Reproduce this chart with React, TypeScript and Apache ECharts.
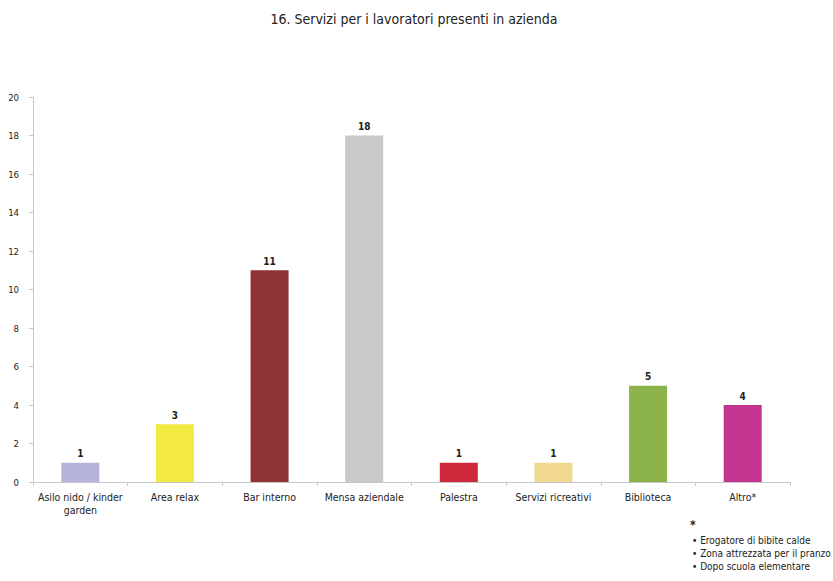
import React, { useEffect, useRef } from "react";
import * as echarts from "echarts";

const titleText = "16. Servizi per i lavoratori presenti in azienda";
const categories = [
  "Asilo nido / kinder\ngarden",
  "Area relax",
  "Bar interno",
  "Mensa aziendale",
  "Palestra",
  "Servizi ricreativi",
  "Biblioteca",
  "Altro*",
];
const values = [1, 3, 11, 18, 1, 1, 5, 4];
const barColors = [
  "#b4b3dc",
  "#f2e943",
  "#8e3234",
  "#c9c9c9",
  "#cf2a3c",
  "#f0d88f",
  "#8db34b",
  "#c2358e",
];
const footnoteLines = [
  "• Erogatore di bibite calde",
  "• Zona attrezzata per il pranzo",
  "• Dopo scuola elementare",
];

const FONT = "'Liberation Sans Narrow', 'DejaVu Sans Condensed', 'Liberation Sans', sans-serif";

export default function App() {
  const ref = useRef<HTMLDivElement>(null);
  useEffect(() => {
    if (!ref.current) return;
    const chart = echarts.init(ref.current, null, { renderer: "svg" });
    chart.setOption({
      animation: false,
      backgroundColor: "#ffffff",
      title: {
        text: titleText,
        left: 409,
        textAlign: "center",
        top: 7,
        textStyle: { fontFamily: FONT, fontSize: 14, fontWeight: "normal", color: "#222" },
      },
      grid: { left: 33, right: 43, top: 97, bottom: 99, containLabel: false },
      xAxis: {
        type: "category",
        data: categories,
        axisLine: { lineStyle: { color: "#c8c8c8" } },
        axisTick: { show: true, alignWithLabel: false, length: 4, lineStyle: { color: "#c8c8c8" } },
        axisLabel: { fontFamily: FONT, fontSize: 10.5, color: "#222", margin: 8, interval: 0, lineHeight: 13 },
      },
      yAxis: {
        type: "value",
        min: 0,
        max: 20,
        interval: 2,
        axisLine: { show: true, lineStyle: { color: "#c8c8c8" } },
        axisTick: { show: true, length: 4, lineStyle: { color: "#c8c8c8" } },
        splitLine: { show: false },
        axisLabel: { fontFamily: FONT, fontSize: 9.5, color: "#222", margin: 14 },
      },
      series: [
        {
          type: "bar",
          barWidth: 38,
          data: values.map((v, i) => ({ value: v, itemStyle: { color: barColors[i] } })),
          label: {
            show: true,
            position: "top",
            distance: 4,
            fontFamily: FONT,
            fontSize: 10,
            fontWeight: "bold",
            color: "#222",
          },
        },
      ],
      graphic: [
        {
          type: "text",
          left: 690,
          top: 519,
          style: { text: "*", fontFamily: FONT, fontSize: 12, fontWeight: "bold", fill: "#222" },
        },
        ...footnoteLines.map((t, i) => ({
          type: "text",
          left: 692,
          top: 535 + i * 13,
          style: { text: t, fontFamily: FONT, fontSize: 10, fill: "#222" },
        })),
      ],
    });
    return () => chart.dispose();
  }, []);
  return <div ref={ref} style={{ width: 833, height: 581, position: "absolute", left: 0, top: 0 }} />;
}
